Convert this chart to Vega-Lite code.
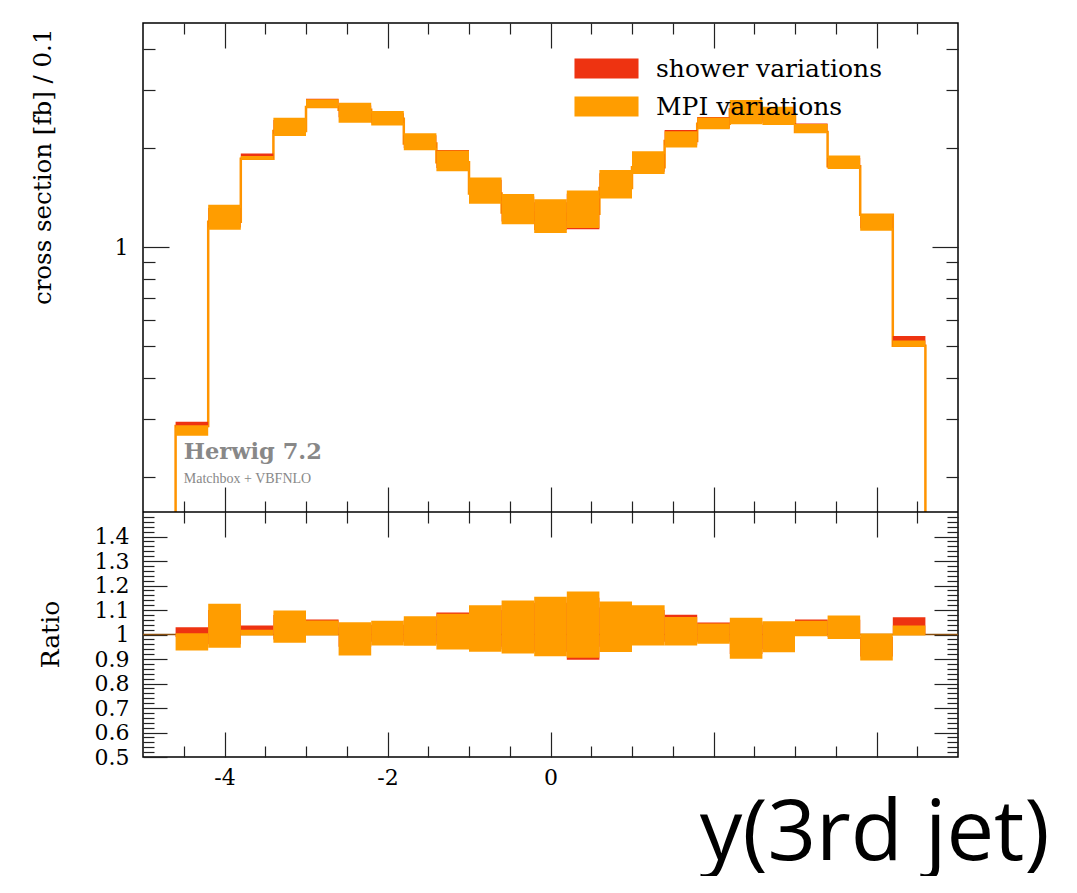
{
  "$schema": "https://vega.github.io/schema/vega-lite/v6.json",
  "background": "white",
  "padding": {"left": 29, "top": 22, "right": 0, "bottom": 0},
  "width": 815,
  "height": 734,
  "config": {
    "view": {"stroke": "#000", "strokeWidth": 1.5},
    "axis": {"labelFont": "DejaVu Serif", "titleFont": "DejaVu Serif", "labelColor": "#000", "titleColor": "#000", "tickColor": "#222", "tickWidth": 1.2, "domain": false, "grid": false, "labelOverlap": false, "labelFlush": false, "labelBound": false, "titleFontWeight": "normal"}
  },
  "datasets": {
    "bins": [
      {"x0": -4.6, "x1": -4.2, "c": 0.2865, "mlo": 0.2679, "mhi": 0.2879, "slo": 0.2836, "shi": 0.2951, "rmlo": 0.935, "rmhi": 1.005, "rslo": 0.99, "rshi": 1.03},
      {"x0": -4.2, "x1": -3.8, "c": 1.197, "mlo": 1.1324, "mhi": 1.3472, "slo": 1.1491, "shi": 1.3167, "rmlo": 0.946, "rmhi": 1.1255, "rslo": 0.96, "rshi": 1.10},
      {"x0": -3.8, "x1": -3.4, "c": 1.861, "mlo": 1.8536, "mhi": 1.8964, "slo": 1.861, "shi": 1.9299, "rmlo": 0.996, "rmhi": 1.019, "rslo": 1.0, "rshi": 1.037},
      {"x0": -3.4, "x1": -3.0, "c": 2.258, "mlo": 2.1812, "mhi": 2.4793, "slo": 2.2128, "shi": 2.4386, "rmlo": 0.966, "rmhi": 1.098, "rslo": 0.98, "rshi": 1.08},
      {"x0": -3.0, "x1": -2.6, "c": 2.67, "mlo": 2.6593, "mhi": 2.8222, "slo": 2.67, "shi": 2.8329, "rmlo": 0.996, "rmhi": 1.057, "rslo": 1.0, "rshi": 1.061},
      {"x0": -2.6, "x1": -2.2, "c": 2.62, "mlo": 2.3947, "mhi": 2.751, "slo": 2.489, "shi": 2.6986, "rmlo": 0.914, "rmhi": 1.05, "rslo": 0.95, "rshi": 1.03},
      {"x0": -2.2, "x1": -1.8, "c": 2.46, "mlo": 2.3493, "mhi": 2.5978, "slo": 2.3862, "shi": 2.5584, "rmlo": 0.955, "rmhi": 1.056, "rslo": 0.97, "rshi": 1.04},
      {"x0": -1.8, "x1": -1.4, "c": 2.068, "mlo": 1.9729, "mhi": 2.2231, "slo": 2.006, "shi": 2.1921, "rmlo": 0.954, "rmhi": 1.075, "rslo": 0.97, "rshi": 1.06},
      {"x0": -1.4, "x1": -1.0, "c": 1.815, "mlo": 1.7043, "mhi": 1.9693, "slo": 1.7424, "shi": 1.9784, "rmlo": 0.939, "rmhi": 1.085, "rslo": 0.96, "rshi": 1.09},
      {"x0": -1.0, "x1": -0.6, "c": 1.459, "mlo": 1.3569, "mhi": 1.6326, "slo": 1.3861, "shi": 1.6049, "rmlo": 0.93, "rmhi": 1.119, "rslo": 0.95, "rshi": 1.10},
      {"x0": -0.6, "x1": -0.2, "c": 1.276, "mlo": 1.1765, "mhi": 1.4534, "slo": 1.1994, "shi": 1.4291, "rmlo": 0.922, "rmhi": 1.139, "rslo": 0.94, "rshi": 1.12},
      {"x0": -0.2, "x1": 0.2, "c": 1.214, "mlo": 1.106, "mhi": 1.401, "slo": 1.129, "shi": 1.3718, "rmlo": 0.911, "rmhi": 1.154, "rslo": 0.93, "rshi": 1.13},
      {"x0": 0.2, "x1": 0.6, "c": 1.266, "mlo": 1.1457, "mhi": 1.4888, "slo": 1.1356, "shi": 1.4559, "rmlo": 0.905, "rmhi": 1.176, "rslo": 0.897, "rshi": 1.15},
      {"x0": 0.6, "x1": 1.0, "c": 1.515, "mlo": 1.4074, "mhi": 1.7195, "slo": 1.4393, "shi": 1.6817, "rmlo": 0.929, "rmhi": 1.135, "rslo": 0.95, "rshi": 1.11},
      {"x0": 1.0, "x1": 1.4, "c": 1.752, "mlo": 1.6732, "mhi": 1.9605, "slo": 1.6994, "shi": 1.9272, "rmlo": 0.955, "rmhi": 1.119, "rslo": 0.97, "rshi": 1.10},
      {"x0": 1.4, "x1": 1.8, "c": 2.106, "mlo": 2.0112, "mhi": 2.2555, "slo": 2.0428, "shi": 2.2766, "rmlo": 0.955, "rmhi": 1.071, "rslo": 0.97, "rshi": 1.081},
      {"x0": 1.8, "x1": 2.2, "c": 2.376, "mlo": 2.2857, "mhi": 2.4829, "slo": 2.3047, "shi": 2.4924, "rmlo": 0.962, "rmhi": 1.045, "rslo": 0.97, "rshi": 1.049},
      {"x0": 2.2, "x1": 2.6, "c": 2.628, "mlo": 2.3678, "mhi": 2.8067, "slo": 2.4178, "shi": 2.7594, "rmlo": 0.901, "rmhi": 1.068, "rslo": 0.92, "rshi": 1.05},
      {"x0": 2.6, "x1": 3.0, "c": 2.54, "mlo": 2.3571, "mhi": 2.6772, "slo": 2.3876, "shi": 2.6416, "rmlo": 0.928, "rmhi": 1.054, "rslo": 0.94, "rshi": 1.04},
      {"x0": 3.0, "x1": 3.4, "c": 2.245, "mlo": 2.2293, "mhi": 2.3707, "slo": 2.245, "shi": 2.3819, "rmlo": 0.993, "rmhi": 1.056, "rslo": 1.0, "rshi": 1.061},
      {"x0": 3.4, "x1": 3.8, "c": 1.764, "mlo": 1.7322, "mhi": 1.9016, "slo": 1.7464, "shi": 1.8698, "rmlo": 0.982, "rmhi": 1.078, "rslo": 0.99, "rshi": 1.06},
      {"x0": 3.8, "x1": 4.2, "c": 1.257, "mlo": 1.1238, "mhi": 1.262, "slo": 1.1439, "shi": 1.2444, "rmlo": 0.894, "rmhi": 1.004, "rslo": 0.91, "rshi": 0.99},
      {"x0": 4.2, "x1": 4.6, "c": 0.5025, "mlo": 0.5005, "mhi": 0.5211, "slo": 0.5025, "shi": 0.5377, "rmlo": 0.996, "rmhi": 1.037, "rslo": 1.0, "rshi": 1.07}
    ],
    "hist": [
      {"i": 0, "x": -4.6, "y": 0.157},
      {"i": 1, "x": -4.6, "y": 0.2865},
      {"i": 2, "x": -4.2, "y": 1.197},
      {"i": 3, "x": -3.8, "y": 1.861},
      {"i": 4, "x": -3.4, "y": 2.258},
      {"i": 5, "x": -3.0, "y": 2.67},
      {"i": 6, "x": -2.6, "y": 2.62},
      {"i": 7, "x": -2.2, "y": 2.46},
      {"i": 8, "x": -1.8, "y": 2.068},
      {"i": 9, "x": -1.4, "y": 1.815},
      {"i": 10, "x": -1.0, "y": 1.459},
      {"i": 11, "x": -0.6, "y": 1.276},
      {"i": 12, "x": -0.2, "y": 1.214},
      {"i": 13, "x": 0.2, "y": 1.266},
      {"i": 14, "x": 0.6, "y": 1.515},
      {"i": 15, "x": 1.0, "y": 1.752},
      {"i": 16, "x": 1.4, "y": 2.106},
      {"i": 17, "x": 1.8, "y": 2.376},
      {"i": 18, "x": 2.2, "y": 2.628},
      {"i": 19, "x": 2.6, "y": 2.54},
      {"i": 20, "x": 3.0, "y": 2.245},
      {"i": 21, "x": 3.4, "y": 1.764},
      {"i": 22, "x": 3.8, "y": 1.257},
      {"i": 23, "x": 4.2, "y": 0.5025},
      {"i": 24, "x": 4.6, "y": 0.5025},
      {"i": 25, "x": 4.6, "y": 0.157}
    ]
  },
  "layer": [
    {
      "data": {"name": "hist"},
      "mark": {"type": "line", "interpolate": "step-after", "color": "#ff9400", "strokeWidth": 2.5},
      "encoding": {
        "x": {"field": "x", "type": "quantitative", "scale": {"domain": [-5, 5], "nice": false, "zero": false},
          "axis": {"orient": "bottom", "offset": -245, "values": [-4.5, -4, -3.5, -3, -2.5, -2, -1.5, -1, -0.5, 0, 0.5, 1, 1.5, 2, 2.5, 3, 3.5, 4, 4.5], "labels": false, "title": null,
            "tickSize": {"condition": {"test": "abs(datum.value % 2) < 0.01", "value": -25}, "value": -11}}},
        "y": {"field": "y", "type": "quantitative", "scale": {"type": "log", "domain": [0.157, 4.81], "range": [489, 0], "nice": false},
          "axis": {"orient": "left", "values": [0.2, 0.3, 0.4, 0.5, 0.6, 0.7, 0.8, 0.9, 1, 2, 3, 4], "labelExpr": "datum.value == 1 ? '1' : ''", "labelPadding": 41,
            "labelFontSize": {"condition": {"test": "datum.value == 1", "value": 22}, "value": 0},
            "tickSize": {"condition": {"test": "datum.value == 1", "value": -26}, "value": -12},
            "title": "cross section [fb] / 0.1", "titleFontSize": 24.5, "titleX": -100, "titleY": 5, "titleAlign": "right", "titleAngle": -90, "titleBaseline": "middle"}},
        "order": {"field": "i", "type": "quantitative"}
      }
    },
    {
      "data": {"name": "bins"},
      "mark": {"type": "rect"},
      "encoding": {
        "x": {"field": "x0", "type": "quantitative",
          "axis": {"orient": "top", "values": [-4.5, -4, -3.5, -3, -2.5, -2, -1.5, -1, -0.5, 0, 0.5, 1, 1.5, 2, 2.5, 3, 3.5, 4, 4.5], "labels": false, "title": null,
            "tickSize": {"condition": {"test": "abs(datum.value % 2) < 0.01", "value": -25}, "value": -11}}},
        "x2": {"field": "x1"},
        "y": {"field": "slo", "type": "quantitative", "scale": {"type": "log", "domain": [0.157, 4.81], "range": [489, 0], "nice": false},
          "axis": {"orient": "right", "values": [0.2, 0.3, 0.4, 0.5, 0.6, 0.7, 0.8, 0.9, 1, 2, 3, 4], "labels": false, "title": null,
            "tickSize": {"condition": {"test": "datum.value == 1", "value": -26}, "value": -12}}},
        "y2": {"field": "shi"},
        "color": {"datum": "shower variations",
          "scale": {"domain": ["shower variations", "MPI variations"], "range": ["#ee3311", "#ff9d00"]},
          "legend": {"orient": "none", "legendX": 446, "legendY": 28, "title": null, "symbolType": "M-1.83,-0.571H1.83V0.571H-1.83Z", "symbolSize": 1225, "symbolStrokeWidth": 0, "symbolOpacity": 1, "labelFont": "DejaVu Serif", "labelFontSize": 25, "labelColor": "#000", "labelLimit": 0, "labelOffset": 32, "rowPadding": 7, "padding": 0}}
      }
    },
    {
      "data": {"name": "bins"},
      "mark": {"type": "rect"},
      "encoding": {
        "x": {"field": "x0", "type": "quantitative",
          "axis": {"orient": "top", "offset": -489, "values": [-4.5, -4, -3.5, -3, -2.5, -2, -1.5, -1, -0.5, 0, 0.5, 1, 1.5, 2, 2.5, 3, 3.5, 4, 4.5], "labels": false, "title": null,
            "tickSize": {"condition": {"test": "abs(datum.value % 2) < 0.01", "value": -25}, "value": -11}}},
        "x2": {"field": "x1"},
        "y": {"field": "mlo", "type": "quantitative", "scale": {"type": "log", "domain": [0.157, 4.81], "range": [489, 0], "nice": false}, "axis": null},
        "y2": {"field": "mhi"},
        "color": {"datum": "MPI variations"}
      }
    },
    {
      "data": {"values": [{}]},
      "mark": {"type": "text", "text": "Herwig 7.2", "align": "left", "baseline": "alphabetic", "font": "DejaVu Serif", "fontWeight": "bold", "fontSize": 22.5, "color": "#888888"},
      "encoding": {
        "x": {"datum": -4.5, "type": "quantitative", "axis": null},
        "y": {"datum": 0.2273, "type": "quantitative", "scale": {"type": "log", "domain": [0.157, 4.81], "range": [489, 0], "nice": false}, "axis": null}
      }
    },
    {
      "data": {"values": [{}]},
      "mark": {"type": "text", "text": "Matchbox + VBFNLO", "align": "left", "baseline": "alphabetic", "font": "Liberation Serif", "fontSize": 14, "color": "#888888"},
      "encoding": {
        "x": {"datum": -4.5, "type": "quantitative", "axis": null},
        "y": {"datum": 0.1925, "type": "quantitative", "scale": {"type": "log", "domain": [0.157, 4.81], "range": [489, 0], "nice": false}, "axis": null}
      }
    },
    {
      "data": {"values": [{}]},
      "mark": {"type": "rule", "color": "#8a5010", "strokeWidth": 1.5},
      "encoding": {
        "y": {"datum": 1, "type": "quantitative", "scale": {"domain": [0.5, 1.5], "range": [734, 489], "nice": false, "zero": false}, "axis": null}
      }
    },
    {
      "data": {"name": "bins"},
      "mark": {"type": "rect", "color": "#ee3311"},
      "encoding": {
        "x": {"field": "x0", "type": "quantitative",
          "axis": {"orient": "bottom", "values": [-4.5, -4, -3.5, -3, -2.5, -2, -1.5, -1, -0.5, 0, 0.5, 1, 1.5, 2, 2.5, 3, 3.5, 4, 4.5],
            "labelExpr": "datum.value == -4 ? '-4' : datum.value == -2 ? '-2' : datum.value == 0 ? '0' : ''", "labelFontSize": 22, "labelPadding": 35,
            "tickSize": {"condition": {"test": "abs(datum.value % 2) < 0.01", "value": -25}, "value": -11},
            "title": "y(3rd jet)", "titleFont": "Open Sans", "titleFontSize": 85, "titleX": 906, "titleY": 102, "titleAlign": "right", "titleBaseline": "alphabetic"}},
        "x2": {"field": "x1"},
        "y": {"field": "rslo", "type": "quantitative", "scale": {"domain": [0.5, 1.5], "range": [734, 489], "nice": false, "zero": false},
          "axis": {"orient": "left", "values": [0.5, 0.52, 0.54, 0.56, 0.58, 0.6, 0.62, 0.64, 0.66, 0.68, 0.7, 0.72, 0.74, 0.76, 0.78, 0.8, 0.82, 0.84, 0.86, 0.88, 0.9, 0.92, 0.94, 0.96, 0.98, 1, 1.02, 1.04, 1.06, 1.08, 1.1, 1.12, 1.14, 1.16, 1.18, 1.2, 1.22, 1.24, 1.26, 1.28, 1.3, 1.32, 1.34, 1.36, 1.38, 1.4, 1.42, 1.44, 1.46, 1.48],
            "labelExpr": "abs(datum.value*10 - round(datum.value*10)) < 0.001 && datum.value < 1.45 ? format(datum.value, '~g') : ''", "labelPadding": 38,
            "labelFontSize": {"condition": {"test": "abs(datum.value*10 - round(datum.value*10)) < 0.001 && datum.value < 1.45", "value": 22}, "value": 0},
            "tickSize": {"condition": {"test": "abs(datum.value*10 - round(datum.value*10)) < 0.001", "value": -24}, "value": -11},
            "title": "Ratio", "titleFontSize": 25, "titleX": -93, "titleY": 611, "titleAlign": "center", "titleAngle": -90, "titleBaseline": "middle"}},
        "y2": {"field": "rshi"}
      }
    },
    {
      "data": {"name": "bins"},
      "mark": {"type": "rect", "color": "#ff9d00"},
      "encoding": {
        "x": {"field": "x0", "type": "quantitative", "axis": null},
        "x2": {"field": "x1"},
        "y": {"field": "rmlo", "type": "quantitative", "scale": {"domain": [0.5, 1.5], "range": [734, 489], "nice": false, "zero": false},
          "axis": {"orient": "right", "values": [0.52, 0.54, 0.56, 0.58, 0.6, 0.62, 0.64, 0.66, 0.68, 0.7, 0.72, 0.74, 0.76, 0.78, 0.8, 0.82, 0.84, 0.86, 0.88, 0.9, 0.92, 0.94, 0.96, 0.98, 1, 1.02, 1.04, 1.06, 1.08, 1.1, 1.12, 1.14, 1.16, 1.18, 1.2, 1.22, 1.24, 1.26, 1.28, 1.3, 1.32, 1.34, 1.36, 1.38, 1.4, 1.42, 1.44, 1.46, 1.48], "labels": false, "title": null,
            "tickSize": {"condition": {"test": "abs(datum.value*10 - round(datum.value*10)) < 0.001", "value": -24}, "value": -11}}},
        "y2": {"field": "rmhi"}
      }
    },
    {
      "data": {"values": [{}]},
      "mark": {"type": "rule", "color": "#000", "strokeWidth": 1.5},
      "encoding": {
        "y": {"datum": 1.5, "type": "quantitative", "scale": {"domain": [0.5, 1.5], "range": [734, 489], "nice": false, "zero": false}, "axis": null}
      }
    }
  ],
  "resolve": {"scale": {"y": "independent"}, "axis": {"x": "independent", "y": "independent"}}
}
